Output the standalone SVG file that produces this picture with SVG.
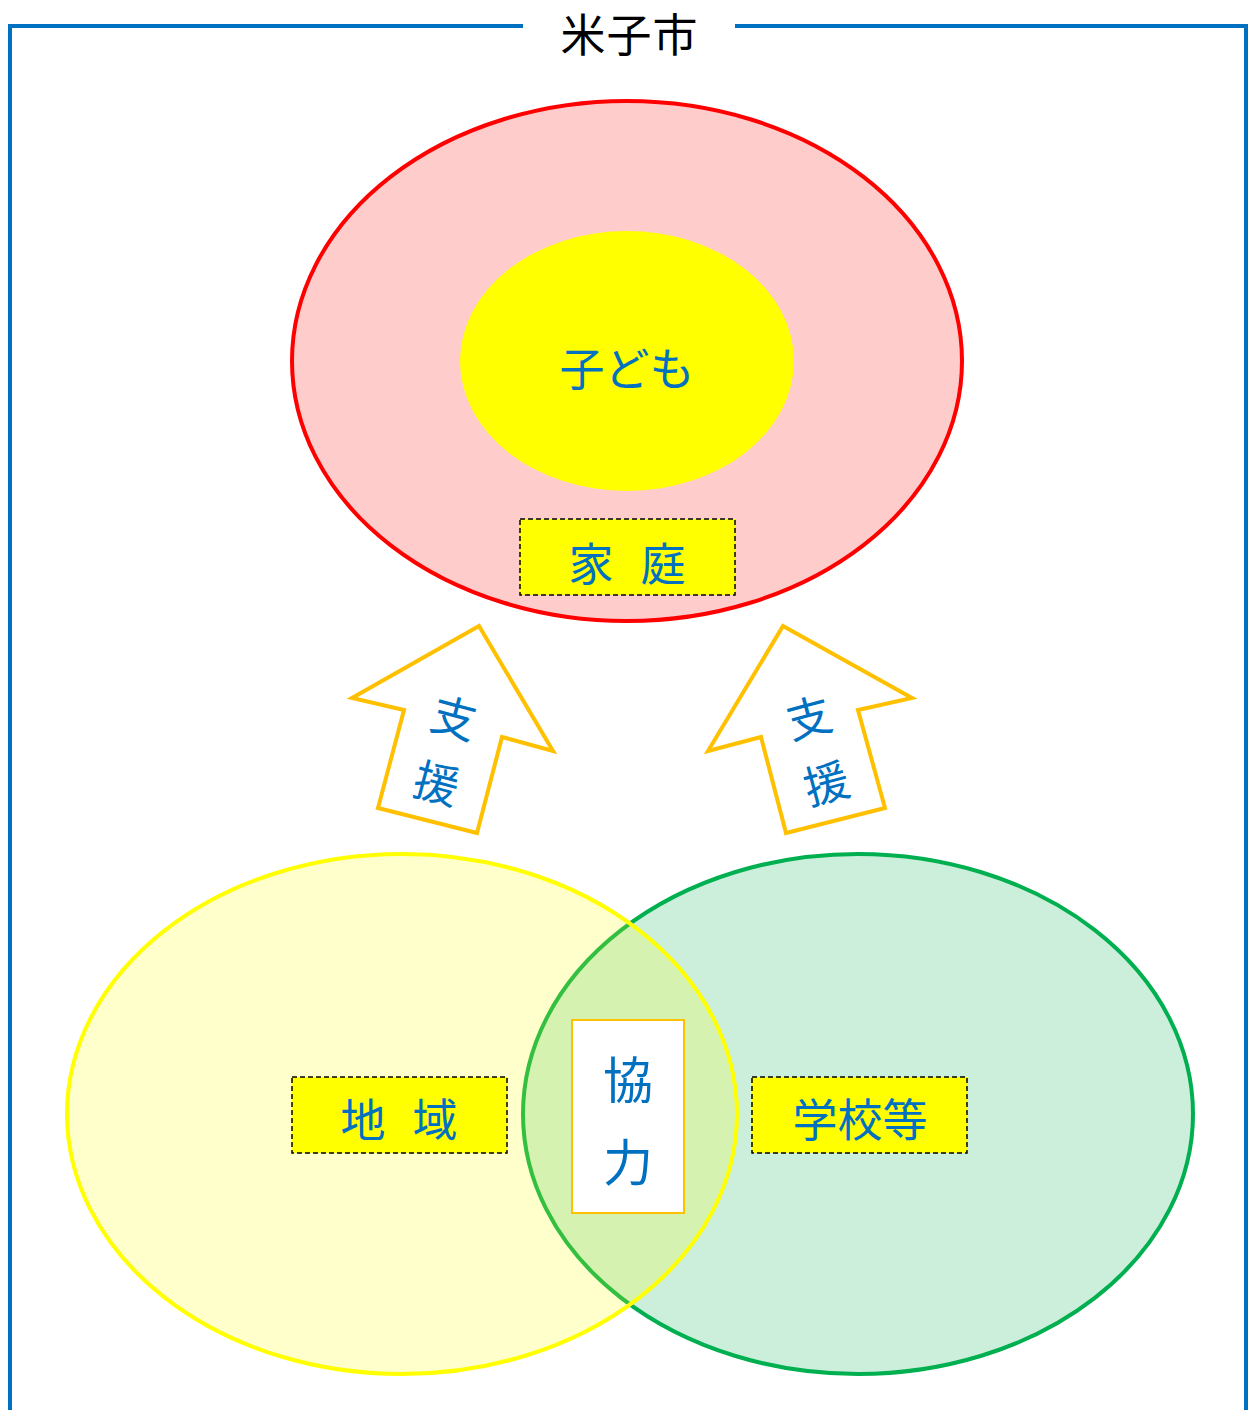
<svg xmlns="http://www.w3.org/2000/svg" width="1249" height="1410" viewBox="0 0 1249 1410">
<style>
.t{font-family:"Noto Sans CJK JP","Noto Sans CJK SC",sans-serif;font-size:45px;fill:#0070C0;text-anchor:middle;dominant-baseline:central}
.title{fill:#000}
.lbl{fill:#FFFF00;stroke:#000;stroke-width:1.5;stroke-dasharray:5 3}
.arrow{fill:#fff;stroke:#FFC000;stroke-width:4;stroke-linejoin:miter}
</style>
<rect width="1249" height="1410" fill="#fff"/>
<g id="frame" fill="none" stroke="#0070C0" stroke-width="4">
<polyline points="523,26 10,26 10,1410"/>
<polyline points="735,26 1246,26 1246,1410"/>
</g>
<g id="title"><text class="t title" x="583" y="32">米</text><text class="t title" x="629" y="32">子</text><text class="t title" x="675" y="32">市</text></g>
<g id="family">
<ellipse cx="627" cy="361" rx="335" ry="260" fill="#FFCCCC" stroke="#FF0000" stroke-width="4"/>
</g>
<g id="child">
<ellipse cx="627" cy="361" rx="167" ry="130" fill="#FFFF00"/>
<text class="t" x="627" y="366">子ども</text>
</g>
<g id="family-label">
<rect class="lbl" x="520" y="519" width="215" height="76"/>
<text class="t" x="591" y="561">家</text><text class="t" x="663" y="561">庭</text>
</g>
<g id="school">
<ellipse cx="858" cy="1114" rx="335" ry="260" fill="#00B050" fill-opacity="0.2" stroke="#00B050" stroke-width="4"/>
</g>
<g id="region">
<ellipse cx="402" cy="1114" rx="335" ry="260" fill="#FFFF00" fill-opacity="0.2" stroke="#FFFF00" stroke-width="4"/>
</g>
<g id="connectors">
<g id="arrow-left">
<polygon class="arrow" points="479,626 352,698 404,710 378,808 477,833 502,737 553,751"/>
<g transform="rotate(15 446 748)"><text class="t" x="446" y="714">支</text><text class="t" x="446" y="782">援</text></g>
</g>
<g id="arrow-right">
<polygon class="arrow" points="783,626 912,698 858,710 885,808 786,833 761,737 708,751"/>
<g transform="rotate(-15 817 748)"><text class="t" x="817" y="714">支</text><text class="t" x="817" y="782">援</text></g>
</g>
</g>
<g id="region-label">
<rect class="lbl" x="292" y="1077" width="215" height="76"/>
<text class="t" x="363" y="1117">地</text><text class="t" x="435" y="1117">域</text>
</g>
<g id="school-label">
<rect class="lbl" x="752" y="1077" width="215" height="76"/>
<text class="t" x="860" y="1117">学校等</text>
</g>
<g id="cooperation">
<rect x="572" y="1020" width="112" height="193" fill="#fff" stroke="#FFC000" stroke-width="2"/>
<text class="t" x="628" y="1077" style="font-size:50px">協</text>
<text class="t" x="628" y="1159" style="font-size:50px">力</text>
</g>
</svg>
